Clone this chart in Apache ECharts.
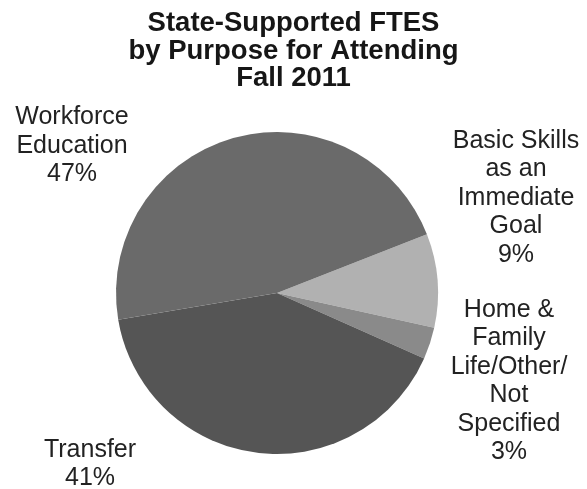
<!DOCTYPE html>
<html>
<head>
<meta charset="utf-8">
<script src="https://cdn.jsdelivr.net/npm/echarts@6/dist/echarts.min.js"></script>
<style>
  html, body { margin: 0; padding: 0; background: #fff; }
  #main { width: 587px; height: 489px; }
</style>
</head>
<body>
<div id="main"></div>
<script>
// slice order goes clockwise from the upper right
var purposes = ['Basic Skills\nas an\nImmediate\nGoal', 'Home &\nFamily\nLife/Other/\nNot\nSpecified', 'Transfer', 'Workforce\nEducation']
var shares = [9.4, 3.2, 40.7, 46.7]
var shades = ['#b1b1b1', '#8a8a8a', '#555555', '#6a6a6a']

// where each label block sits (center of block)
var labelSpots = [[516, 198], [509, 381], [90, 464], [72, 146]]

var myChart = echarts.init(document.getElementById('main'))

myChart.setOption({
  animation: false,
  title: {
    text: 'State-Supported FTES\nby Purpose for Attending\nFall 2011',
    left: 'center',
    top: 10,
    padding: [0, 0, 0, 7],
    textStyle: {
      fontFamily: 'Liberation Sans',
      fontWeight: 'bold',
      fontSize: 27.5,
      lineHeight: 27.5,
      color: '#161616'
    }
  },
  series: [
    {
      type: 'pie',
      center: [277, 293],
      radius: 161,
      startAngle: 21.4,
      clockwise: true,
      silent: true,
      data: purposes.map(function (p, i) {
        return { name: p, value: shares[i], itemStyle: { color: shades[i] } }
      }),
      label: {
        show: true,
        position: 'outside',
        formatter: function (params) {
          return params.name + '\n' + Math.round(params.percent) + '%'
        },
        fontFamily: 'Liberation Sans',
        fontSize: 25,
        lineHeight: 28.5,
        color: '#222',
        align: 'center',
        overflow: 'none',
        width: 200
      },
      labelLine: { show: false },
      labelLayout: function (params) {
        var s = labelSpots[params.dataIndex]
        return { x: s[0], y: s[1], align: 'center', verticalAlign: 'middle' }
      }
    }
  ]
})
</script>
</body>
</html>
